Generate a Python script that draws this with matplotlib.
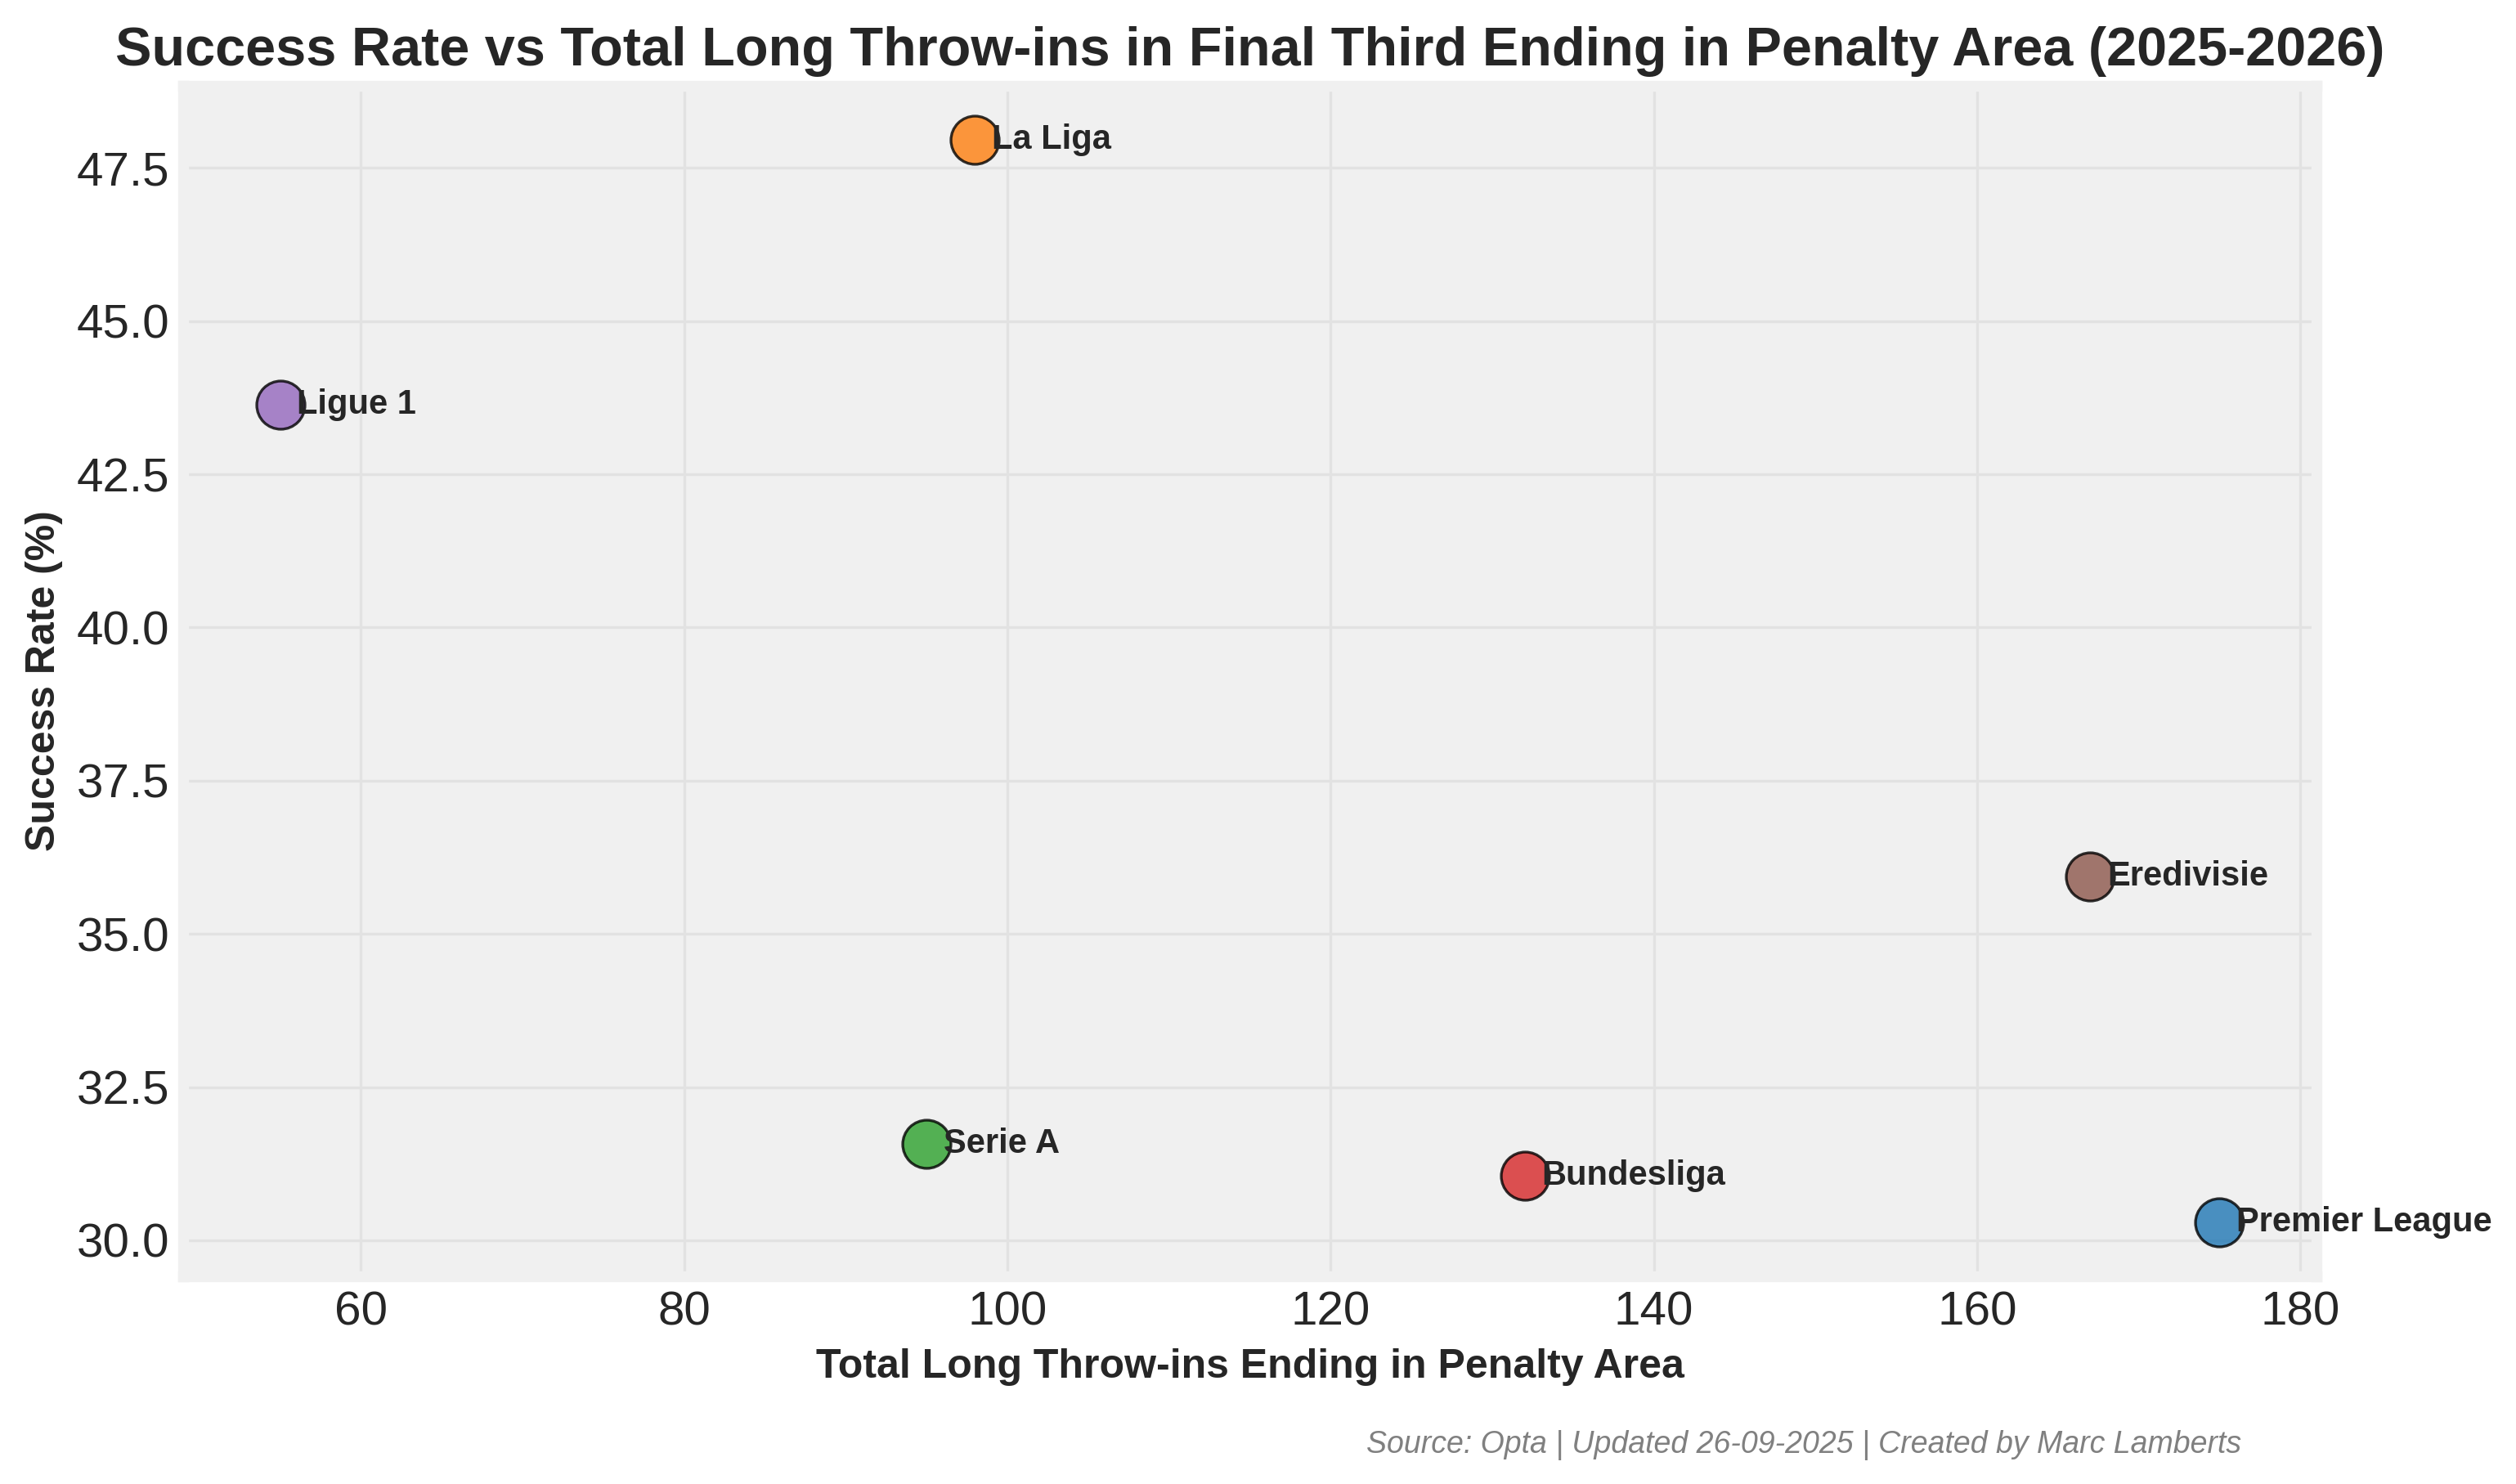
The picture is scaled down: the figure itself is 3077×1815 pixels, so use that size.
import matplotlib.pyplot as plt

# League data (2025-2026)
leagues = ["Premier League", "La Liga", "Serie A", "Bundesliga", "Ligue 1", "Eredivisie"]
total_throws = [175, 98, 95, 132, 55, 167]
success_rate = [30.29, 47.96, 31.58, 31.06, 43.64, 35.93]
colors = ["#1f77b4", "#ff7f0e", "#2ca02c", "#d62728", "#9467bd", "#8c564b"]

text_color = "#262626"
plt.rcParams["font.family"] = ["Liberation Sans", "DejaVu Sans"]
plt.rcParams["text.color"] = text_color
plt.rcParams["axes.labelcolor"] = text_color
plt.rcParams["xtick.color"] = text_color
plt.rcParams["ytick.color"] = text_color

fig = plt.figure(figsize=(3077 / 300, 1815 / 300), dpi=300)
ax = fig.add_axes([0.0728, 0.1397, 0.8479, 0.8027])
ax.set_facecolor("#f0f0f0")

for name, x, y, c in zip(leagues, total_throws, success_rate, colors):
    ax.scatter(x, y, s=200, color=c, alpha=0.8, edgecolor="black", linewidth=0.8, zorder=3)
    ax.annotate(name, (x, y), xytext=(5, 0), textcoords="offset points",
                ha="left", va="center", fontsize=10, fontweight="bold", zorder=4)

ax.grid(True, color="#e2e2e2", linewidth=0.8)
ax.set_axisbelow(True)
for sp in ax.spines.values():
    sp.set_color("#f0f0f0")
    sp.set_linewidth(3.2)
ax.tick_params(length=0, labelsize=14, pad=4)

ax.set_title("Success Rate vs Total Long Throw-ins in Final Third Ending in Penalty Area (2025-2026)",
             fontsize=16, fontweight="bold", pad=6)
ax.set_xlabel("Total Long Throw-ins Ending in Penalty Area", fontsize=12, fontweight="bold")
ax.set_ylabel("Success Rate (%)", fontsize=12, fontweight="bold")

fig.text(0.891, 0.026, "Source: Opta | Updated 26-09-2025 | Created by Marc Lamberts",
         ha="right", va="center", fontsize=9, style="italic", color="gray")

fig.savefig("out.png", dpi=300)
